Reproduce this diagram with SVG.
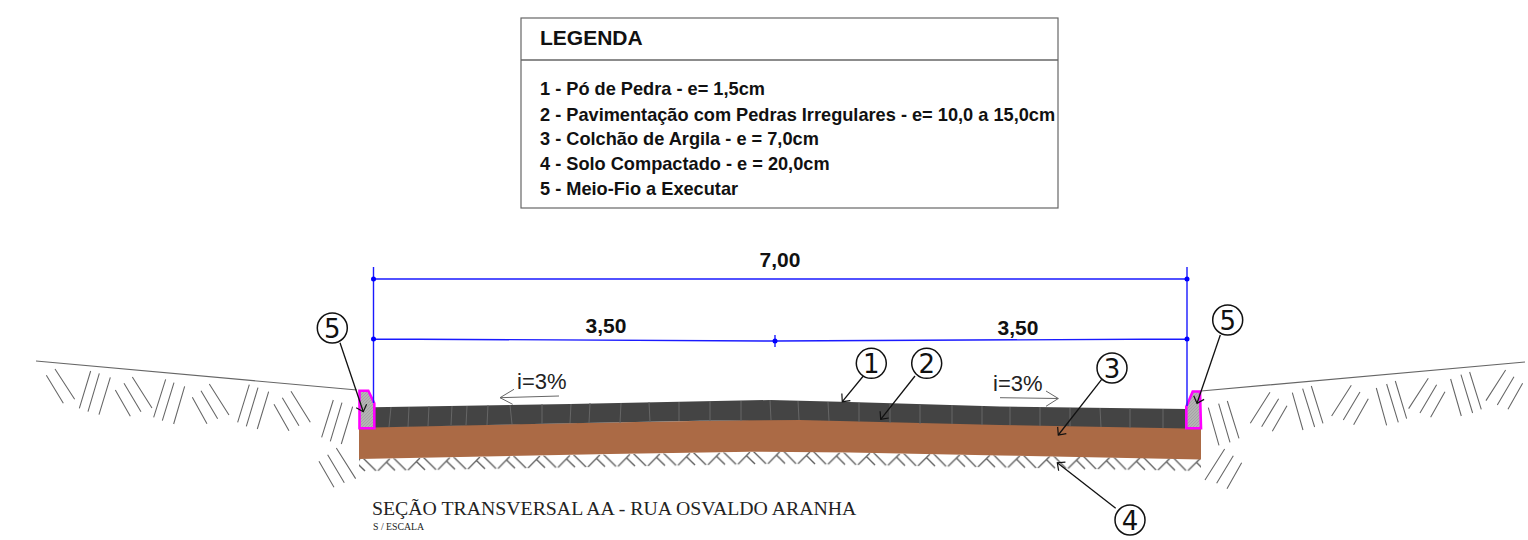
<svg xmlns="http://www.w3.org/2000/svg" width="1528" height="540" viewBox="0 0 1528 540">
<style>
.leg{font:bold 18.2px "Liberation Sans",Arial,sans-serif;fill:#111}
.dim{font:bold 21px "Liberation Sans",Arial,sans-serif;fill:#111;text-anchor:middle}
.tag{font:26px "DejaVu Sans",sans-serif;fill:#111;text-anchor:middle}
.slope{font:22px "Liberation Sans",Arial,sans-serif;fill:#222}
.ser{font-family:"Liberation Serif","Times New Roman",serif;fill:#222}
.box{fill:#fff;stroke:#666;stroke-width:1.2}
.b{stroke:#1a1aff;stroke-width:1.4;fill:none}
.g{stroke:#666;fill:none}
.lead{stroke:#111;stroke-width:1.3;fill:none;marker-end:url(#v)}
.circ{fill:#fff;stroke:#111;stroke-width:1.5}
.curb{fill:url(#cross);stroke:#f0f;stroke-width:2.6}
.herr{stroke:#606060;stroke-width:1.3;fill:none}
</style>
<defs>
<marker id="v" markerUnits="userSpaceOnUse" markerWidth="14" markerHeight="14" refX="11" refY="7" orient="auto"><path d="M5 1.5L11 7L5 12.5" fill="none" stroke="#111" stroke-width="1.2"/></marker>
<pattern id="cross" width="3" height="3" patternUnits="userSpaceOnUse"><rect width="3" height="3" fill="#b4b4b4"/><path d="M0 3L3 0" stroke="#999" stroke-width=".6"/></pattern>
<pattern id="herrL" width="30" height="18" patternUnits="userSpaceOnUse" patternTransform="matrix(1 -0.0179 0 1 363 458)"><path class="herr" d="M0 0L13 13M15 13L27 1M23 4L32 13M-7 4L2 13"/></pattern>
<pattern id="herrR" width="30" height="18" patternUnits="userSpaceOnUse" patternTransform="matrix(1 0.0176 0 1 783 450.5)"><path class="herr" d="M0 0L13 13M15 13L27 1M23 4L32 13M-7 4L2 13"/></pattern>
<clipPath id="hcL"><path d="M359 459L779 451.5V465.5L359 472Z"/></clipPath>
<clipPath id="hcR"><path d="M779 451.5L1201 459V472L779 465.5Z"/></clipPath>
</defs>

<g id="legend">
<rect class="box" x="521" y="18" width="537" height="190"/>
<path class="g" d="M521 60H1058" stroke-width="1.4"/>
<text x="540" y="45" style="font:bold 21px 'Liberation Sans',Arial,sans-serif;fill:#111">LEGENDA</text>
<text class="leg" x="540" y="94.5">1 - Pó de Pedra - e= 1,5cm</text>
<text class="leg" x="540" y="121">2 - Pavimentação com Pedras Irregulares - e= 10,0 a 15,0cm</text>
<text class="leg" x="540" y="145">3 - Colchão de Argila - e = 7,0cm</text>
<text class="leg" x="540" y="170">4 - Solo Compactado - e = 20,0cm</text>
<text class="leg" x="540" y="195">5 - Meio-Fio a Executar</text>
</g>

<g id="terrain">
<path class="g" d="M36 361L357 390M1201 391L1525 362" stroke-width="1.1"/>
<path class="g" transform="translate(0 300) scale(.3333)" stroke-width="3.2" d="M165 207L224 298M139 226L190 310M272 213L238 325M298 220L264 335M331 232L297 344M397 231L456 324M372 250L423 335M346 270L391 349M497 238L461 352M522 248L487 362M554 259L521 372M628 252L687 345M603 272L653 356M577 292L621 371M748 254L713 367M774 263L739 379M806 275L772 387M873 274L931 367M847 293L897 377M822 313L867 392M1000 300L965 412M1026 308L991 424M1058 320L1024 432M1009 444L1067 536M983 464L1033 548M957 484L1002 562"/>
<path class="g" transform="translate(1078 300) scale(.3333)" stroke-width="3.2" d="M391 323L423 436M422 311L456 427M448 303L483 415M440 447L381 540M466 467L416 550M491 488L447 566M576 277L517 370M602 296L551 380M627 317L583 394M643 278L675 390M674 266L710 381M700 258L735 370M820 256L761 348M846 276L796 360M871 296L827 374M895 264L926 376M926 252L961 367M952 243L986 356M1051 235L992 326M1076 254L1026 339M1101 275L1058 352M1118 237L1150 348M1149 224L1184 339M1175 216L1210 328M1283 210L1224 302M1308 230L1258 315M1334 250L1290 328"/>
<rect x="359" y="445" width="420" height="30" fill="url(#herrL)" clip-path="url(#hcL)"/>
<rect x="779" y="445" width="422" height="30" fill="url(#herrR)" clip-path="url(#hcR)"/>
</g>

<g id="layer-brown"><path d="M359 427L750 420L800 419L1000 424L1201 428V459.5L1000 455.5L850 452.5L750 451.7L610 454L359 459Z" fill="#ab6a45"/></g>
<g id="layer-pavers">
<path d="M373 407.3L570 404L770 400L850 402L1000 406.5L1187 409V428.5L1000 425L800 420L700 420.7L570 423.3L373 427.5Z" fill="#444"/>
<path stroke="#666" stroke-width="1" fill="none" d="M391 407L389 427M409 407L408 427M429 406L428 426M452 406L451 425M467 406L466 425M488 405L487 425M510 405L512 424M542 404L542 424M571 404L570 423M590 403L589 423M621 403L620 423M649 402L650 422M679 402L679 421M710 401L710 421M741 401L741 421M770 400L771 420M798 401L799 420M828 402L829 421M859 403L859 422M890 404L890 423M920 405L920 424M952 405L952 424M982 406L982 425M1010 407L1010 425M1040 407L1040 426M1070 408L1070 426M1100 408L1101 427M1130 408L1130 428M1163 409L1163 428"/>
</g>
<g id="curb-left"><path class="curb" d="M359.5 390.7H368.3L374.3 403.3V428.3H359.5Z"/></g>
<g id="curb-right"><path class="curb" d="M1192.7 391.5H1200L1201 428.3H1186.3V406.7Z"/></g>

<g id="dimensions">
<path class="b" d="M373.5 267V403M1187 267V406M373.5 279H1187M373.5 339L775 341L1187 339M775 335V347"/>
<g fill="#00f"><circle cx="373.5" cy="279" r="2.5"/><circle cx="1187" cy="279" r="2.5"/><circle cx="373.5" cy="339" r="2.5"/><circle cx="775" cy="341" r="2.5"/><circle cx="1187" cy="339" r="2.5"/></g>
<text class="dim" x="780" y="266.5">7,00</text>
<text class="dim" x="606" y="332.5">3,50</text>
<text class="dim" x="1018" y="334.5">3,50</text>
</g>

<g id="slopes">
<text class="slope" x="517" y="388.5">i=3%</text>
<text class="slope" x="993" y="391">i=3%</text>
<path class="g" d="M559 396L500 397.7M514 389.3L500 397.7L512.7 404.3" stroke="#444"/>
<path class="g" d="M1000 397.7L1058.3 398.5M1046 391L1058.3 398.5L1046 406.3" stroke="#444"/>
</g>

<g id="connectors">
<path class="lead" d="M340 342.7L363.3 411.7"/>
<path class="lead" d="M1220.3 335L1197 403.3"/>
<path class="lead" d="M863.3 376L842.3 401.7"/>
<path class="lead" d="M915 376L880.7 419.3"/>
<path class="lead" d="M1101.7 379.3L1058.3 435"/>
<path class="lead" d="M1115.7 508.3L1057.3 462.7"/>
</g>

<g id="tag-5-left"><circle class="circ" cx="332.3" cy="328" r="15"/><text class="tag" x="332.3" y="337.5">5</text></g>
<g id="tag-5-right"><circle class="circ" cx="1227.7" cy="320" r="15"/><text class="tag" x="1227.7" y="329.5">5</text></g>
<g id="tag-1"><circle class="circ" cx="871.3" cy="363.3" r="15"/><text class="tag" x="871.3" y="372.8">1</text></g>
<g id="tag-2"><circle class="circ" cx="926.7" cy="363.3" r="15"/><text class="tag" x="926.7" y="372.8">2</text></g>
<g id="tag-3"><circle class="circ" cx="1112" cy="368" r="15"/><text class="tag" x="1112" y="377.5">3</text></g>
<g id="tag-4"><circle class="circ" cx="1130" cy="520" r="15"/><text class="tag" x="1130" y="529.5">4</text></g>

<g id="title">
<text class="ser" x="372" y="515" font-size="19.8">SEÇÃO TRANSVERSAL AA - RUA OSVALDO ARANHA</text>
<text class="ser" x="373" y="530" font-size="9.8">S / ESCALA</text>
</g>
</svg>
